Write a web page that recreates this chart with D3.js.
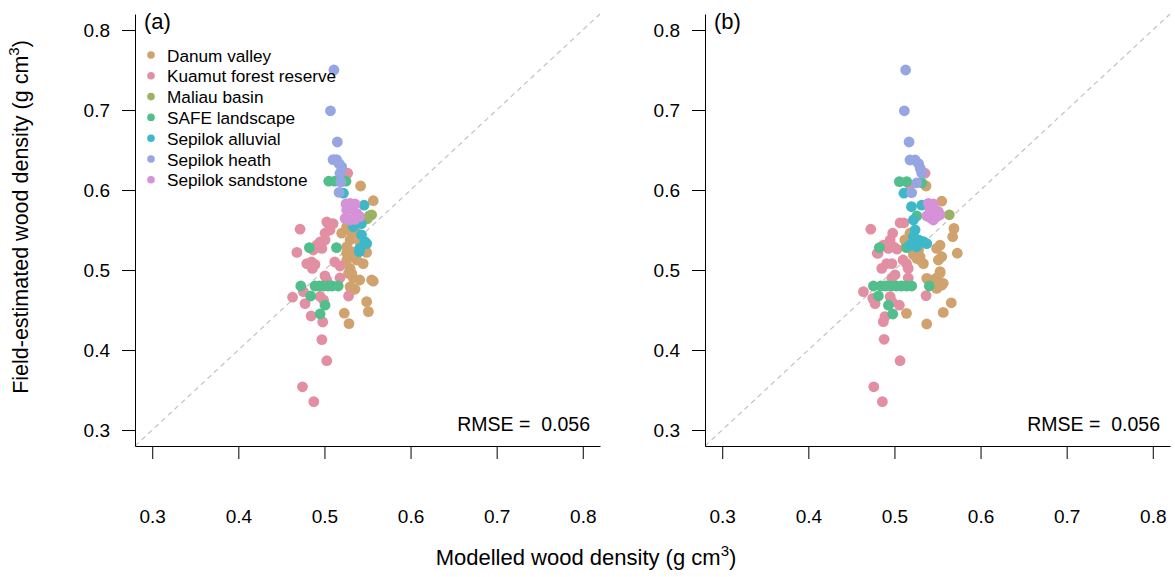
<!DOCTYPE html>
<meta charset="utf-8">
<style>
  body { margin: 0; background: #fff; }
  svg text { font-family: "Liberation Sans", Arial, sans-serif; fill: #000; }
</style>
<body>
<svg width="1175" height="577"></svg>
<script src="https://d3js.org/d3.v7.min.js"></script>
<script>
// sites and colours
var sites = ["Danum valley", "Kuamut forest reserve", "Maliau basin", "SAFE landscape",
             "Sepilok alluvial", "Sepilok heath", "Sepilok sandstone"];
var colors = ["#CFA26E", "#E28FA3", "#9AB262", "#52BE8C", "#3EB8C8", "#96A6E2", "#D692D6"];
var ticks = [0.3, 0.4, 0.5, 0.6, 0.7, 0.8];
var rmse = ["0.056", "0.056"];

// [modelled, field] pairs, panel (a)
var danumA = [[.542,.605],[.5567,.5866],[.520,.546],[.5297,.5375],[.5258,.529],[.5317,.523],[.549,.522],
  [.545,.508],[.5297,.502],[.5317,.4958],[.5336,.4896],[.5297,.479],[.541,.4875],[.5548,.4875],[.5567,.486],
  [.5355,.476],[.5317,.475],[.528,.4958],[.5375,.5125],[.5335,.519],[.5258,.521],[.549,.4604],[.551,.448],
  [.523,.446],[.5285,.433],[.5375,.546],[.541,.5354],[.543,.527],[.5258,.512],[.528,.5625],[.5258,.554],[.5317,.546]];
var kuamutA = [[.527,.621],[.4717,.551],[.5045,.558],[.510,.558],[.5027,.56],[.5007,.546],[.5065,.55],
  [.495,.535],[.5007,.5375],[.491,.531],[.497,.527],[.487,.525],[.468,.522],[.4795,.508],[.485,.510],
  [.489,.507],[.486,.502],[.512,.510],[.518,.505],[.5007,.4925],[.5027,.4875],[.518,.49],[.463,.466],
  [.4755,.473],[.4775,.458],[.495,.467],[.499,.4625],[.4845,.4425],[.498,.435],[.528,.4675],[.497,.413],
  [.5027,.3866],[.4745,.354],[.4876,.3354]];
var maliauA = [[.552,.5675],[.5548,.569],[.5497,.564]];
var safeA = [[.505,.611],[.512,.611],[.525,.611],[.4825,.528],[.514,.528],[.4725,.48],[.489,.48],[.494,.48],
  [.499,.48],[.504,.48],[.509,.48],[.516,.48],[.484,.4675],[.5007,.456],[.495,.445]];
var alluvialA = [[.522,.596],[.546,.581],[.539,.5604],[.543,.558],[.5336,.554],[.543,.544],[.547,.5354],
  [.549,.533],[.541,.527],[.5405,.523]];
var heathA = [[.511,.750],[.507,.699],[.515,.660],[.510,.638],[.514,.638],[.517,.633],[.520,.629],
  [.518,.621],[.519,.610],[.517,.597]];
var sandstoneA = [[.525,.5825],[.5297,.5833],[.5355,.5825],[.5258,.575],[.5317,.5758],[.5375,.5708],
  [.524,.5646],[.5297,.5625],[.5355,.5633],[.541,.5667]];

// [modelled, field] pairs, panel (b)
var danumB = [[.5367,.605],[.5549,.586],[.5691,.552],[.5676,.5416],[.553,.531],[.549,.527],[.573,.521],
  [.5549,.5166],[.551,.5125],[.5297,.5125],[.5336,.508],[.5259,.5146],[.522,.519],[.514,.531],[.518,.5375],
  [.524,.529],[.528,.525],[.553,.498],[.549,.49],[.5375,.4896],[.5413,.4833],[.549,.477],[.5549,.481],
  [.514,.4458],[.5375,.4325],[.5567,.447],[.566,.459],[.541,.4875],[.5567,.4834],[.553,.496],[.526,.521],
  [.5297,.5166],[.518,.546],[.512,.5375]];
var kuamutB = [[.5355,.621],[.518,.606],[.4725,.551],[.5065,.559],[.511,.559],[.498,.546],[.495,.5375],
  [.487,.531],[.493,.527],[.499,.529],[.503,.526],[.480,.521],[.491,.508],[.4853,.502],[.497,.508],
  [.514,.508],[.516,.502],[.5007,.494],[.497,.49],[.516,.49],[.510,.5125],[.464,.473],[.4748,.4646],
  [.4775,.458],[.5057,.456],[.495,.4667],[.497,.4604],[.5367,.468],[.489,.4417],[.4871,.4354],
  [.488,.4134],[.5065,.3866],[.476,.354],[.486,.3354],[.481,.521]];
var maliauB = [[.5637,.569],[.545,.572],[.541,.566]];
var safeB = [[.5057,.6104],[.5143,.6104],[.5317,.609],[.4825,.528],[.514,.528],[.526,.5675],[.4756,.48],
  [.484,.48],[.49,.48],[.496,.48],[.502,.48],[.508,.48],[.514,.48],[.52,.48],[.5405,.48],[.4814,.4675],
  [.493,.456],[.498,.445]];
var alluvialB = [[.511,.596],[.5198,.5792],[.522,.5625],[.524,.55],[.522,.5416],[.528,.5375],[.5336,.5354],
  [.518,.531],[.526,.529],[.5375,.533],[.5317,.581]];
var heathB = [[.513,.75],[.5115,.699],[.517,.660],[.518,.6375],[.524,.6375],[.528,.633],[.530,.627],
  [.5317,.621],[.526,.609],[.520,.5966]];
var sandstoneB = [[.5394,.5833],[.5452,.5825],[.5413,.577],[.547,.575],[.551,.573],[.5375,.5675],
  [.5433,.5646],[.549,.5667],[.5452,.5625],[.553,.569]];

var panels = [
  {label: "(a)", left: 135, legend: true, rmse: rmse[0],
   series: [danumA, kuamutA, maliauA, safeA, alluvialA, heathA, sandstoneA]},
  {label: "(b)", left: 705, legend: false, rmse: rmse[1],
   series: [danumB, kuamutB, maliauB, safeB, alluvialB, heathB, sandstoneB]}
];

var svg = d3.select("svg"),
    plotTop = 14, plotBottom = 446, pw = 465,
    lim = [0.28, 0.82];

var y = d3.scaleLinear().domain(lim).range([plotBottom, plotTop]);

panels.forEach(function(p) {
  var x = d3.scaleLinear().domain(lim).range([p.left, p.left + pw]);
  var g = svg.append("g");

  // 1:1 line
  g.append("line")
    .attr("x1", x(lim[0])).attr("y1", y(lim[0]))
    .attr("x2", x(lim[1])).attr("y2", y(lim[1]))
    .attr("stroke", "#c2c2c2").attr("stroke-width", 1.2)
    .attr("stroke-dasharray", "5,4");

  p.series.forEach(function(s, i) {
    g.append("g").selectAll("circle")
      .data(s)
      .enter().append("circle")
      .attr("cx", function(d) { return x(d[0]); })
      .attr("cy", function(d) { return y(d[1]); })
      .attr("r", 5.4)
      .attr("fill", colors[i]);
  });

  var xAxis = d3.axisBottom(x).tickValues(ticks).tickSize(13).tickSizeOuter(0)
    .tickPadding(51).tickFormat(d3.format(".1f"));
  var yAxis = d3.axisLeft(y).tickValues(ticks).tickSize(13).tickSizeOuter(0)
    .tickPadding(12).tickFormat(d3.format(".1f"));

  var xg = g.append("g").attr("transform", "translate(0," + plotBottom + ")").call(xAxis);
  var yg = g.append("g").attr("transform", "translate(" + p.left + ",0)").call(yAxis);
  [xg, yg].forEach(function(a) {
    a.attr("font-size", null).attr("font-family", null);
    a.selectAll("text").style("font-size", "19px");
    a.selectAll("path, line").attr("stroke", "#000");
  });

  g.append("text")
    .attr("x", p.left + 9).attr("y", 29)
    .style("font-size", "22px")
    .text(p.label);

  g.append("text")
    .attr("x", p.left + pw - 10).attr("y", 431)
    .attr("text-anchor", "end")
    .style("font-size", "19.5px")
    .style("white-space", "pre")
    .text("RMSE =  " + p.rmse);

  if (p.legend) {
    var lg = g.append("g").attr("transform", "translate(" + (p.left + 16) + ",55)");
    sites.forEach(function(name, i) {
      var row = lg.append("g").attr("transform", "translate(0," + (i * 20.8) + ")");
      row.append("circle").attr("r", 3.8).attr("fill", colors[i]);
      row.append("text").attr("x", 16).attr("y", 6.5)
        .style("font-size", "17.2px").text(name);
    });
  }
});

// axis titles
var yt = svg.append("text")
  .attr("transform", "translate(28,217) rotate(-90)")
  .attr("text-anchor", "middle")
  .style("font-size", "21.5px");
yt.append("tspan").text("Field-estimated wood density (g cm");
yt.append("tspan").attr("dy", -9).style("font-size", "15px").text("3");
yt.append("tspan").attr("dy", 9).text(")");

var xt = svg.append("text")
  .attr("x", 586).attr("y", 565)
  .attr("text-anchor", "middle")
  .style("font-size", "22px");
xt.append("tspan").text("Modelled wood density (g cm");
xt.append("tspan").attr("dy", -9).style("font-size", "15px").text("3");
xt.append("tspan").attr("dy", 9).text(")");
</script>
</body>
